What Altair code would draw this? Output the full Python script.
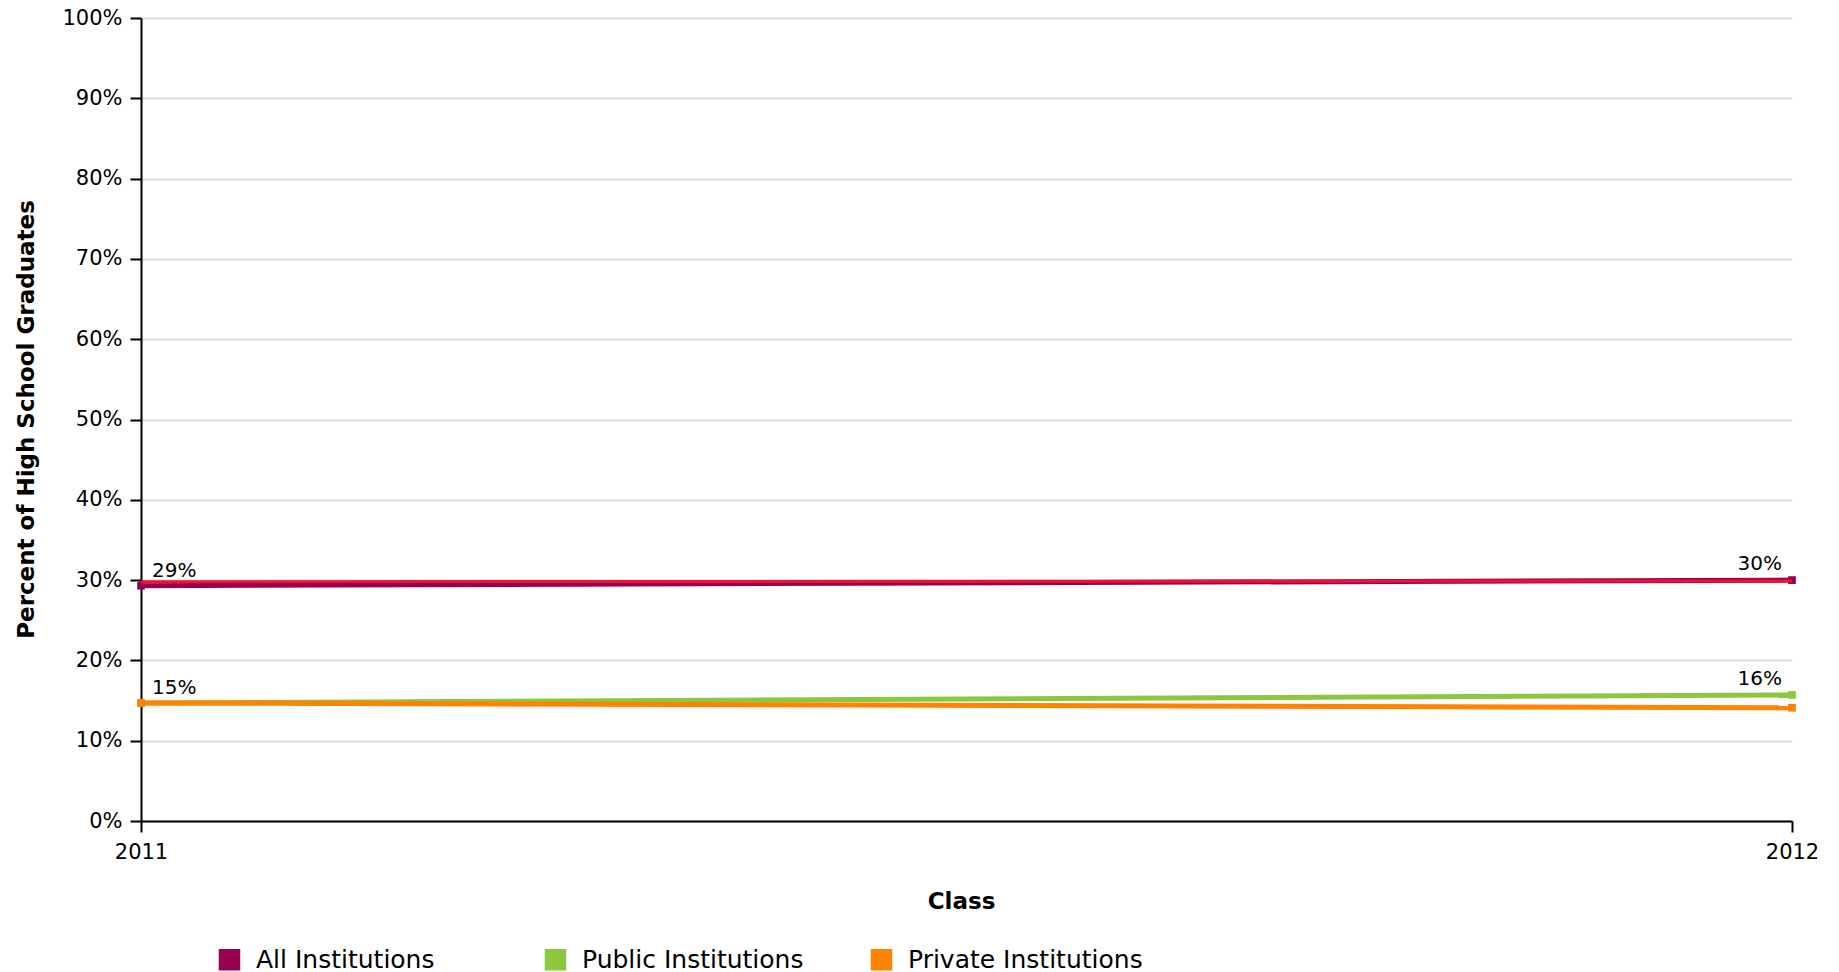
import altair as alt
import pandas as pd

years = [2011, 2012]
series_names = ["All Institutions", "Public Institutions", "Private Institutions"]
all_inst = [29.3, 30.0]
public_inst = [14.7, 15.7]
private_inst = [14.7, 14.1]
comparison = [29.8, 29.9]
colors = ["#990050", "#8DC63F", "#FF8200"]

rows = []
for name, vals in zip(series_names, [all_inst, public_inst, private_inst]):
    for y, v in zip(years, vals):
        rows.append({"year": y, "series": name, "value": v})
df = pd.DataFrame(rows)
df_cmp = pd.DataFrame({"year": years, "value": comparison})

FONT = "DejaVu Sans"

x_enc = alt.X("year:Q", scale=alt.Scale(domain=[2011, 2012], nice=False, zero=False),
              axis=alt.Axis(values=years, format="d", title="Class", grid=False,
                            labelFontSize=21, titleFontSize=23, titleFontWeight="bold",
                            labelPadding=9, titleY=80, titleX=820, titleAlign="center",
                            titleBaseline="middle",
                            tickSize=11, tickWidth=2, domainWidth=2,
                            domainColor="black", tickColor="black",
                            labelColor="black", titleColor="black", labelFlush=False))
y_enc = alt.Y("value:Q", scale=alt.Scale(domain=[0, 100], nice=False),
              axis=alt.Axis(values=list(range(0, 101, 10)), labelExpr="datum.value + '%'",
                            title="Percent of High School Graduates",
                            labelFontSize=21, titleFontSize=23, titleFontWeight="bold",
                            labelPadding=8, tickSize=11, tickWidth=2, domainWidth=2,
                            domainColor="black", tickColor="black", gridColor="#dddddd",
                            gridWidth=2, labelColor="black", titleColor="black",
                            titleX=-115, titleY=401, titleAngle=270,
                            titleBaseline="middle", titleAlign="center"))

color_enc = alt.Color("series:N", scale=alt.Scale(domain=series_names, range=colors),
                      sort=series_names,
                      legend=alt.Legend(title=None, orient="none", legendX=76, legendY=929,
                                        direction="horizontal", columns=3, gridAlign="all",
                                        symbolType="square", symbolSize=400,
                                        symbolStrokeWidth=1.5, symbolOpacity=1,
                                        labelFontSize=25, labelOffset=14,
                                        columnPadding=51,
                                        labelColor="black", labelLimit=600))

base = alt.Chart(df)
points = base.mark_square(size=60, opacity=1, filled=True).encode(x=x_enc, y=y_enc, color=color_enc)
lines_all = base.transform_filter(alt.datum.series == "All Institutions").mark_line(strokeWidth=5).encode(
    x=x_enc, y=y_enc, color=color_enc)
cmp_line = alt.Chart(df_cmp).mark_line(strokeWidth=3, color="#EE1133").encode(x=x_enc, y=y_enc)
lines_pub = base.transform_filter(alt.datum.series == "Public Institutions").mark_line(strokeWidth=5).encode(
    x=x_enc, y=y_enc, color=color_enc)
lines_priv = base.transform_filter(alt.datum.series == "Private Institutions").mark_line(strokeWidth=5).encode(
    x=x_enc, y=y_enc, color=color_enc)

lab_base = base.transform_filter(
    (alt.datum.series == "All Institutions") | (alt.datum.series == "Public Institutions")
).transform_calculate(lab="format(datum.value, '.0f') + '%'")
left_labels = lab_base.transform_filter(alt.datum.year == 2011).mark_text(
    align="left", baseline="alphabetic", dx=11, dy=-9, fontSize=20, font=FONT, color="black"
).encode(x=x_enc, y=y_enc, text="lab:N")
right_labels = lab_base.transform_filter(alt.datum.year == 2012).mark_text(
    align="right", baseline="alphabetic", dx=-10, dy=-10, fontSize=20, font=FONT, color="black"
).encode(x=x_enc, y=y_enc, text="lab:N")

chart = alt.layer(points, lines_all, cmp_line, lines_pub, lines_priv, left_labels, right_labels).properties(
    width=1651, height=803,
    autosize=alt.AutoSizeParams(type="none"),
    padding={"left": 133, "top": 10, "right": 30, "bottom": 153},
).configure(font=FONT).configure_view(stroke=None)

chart.save("out.html", embed_options={"renderer": "svg", "actions": False})
